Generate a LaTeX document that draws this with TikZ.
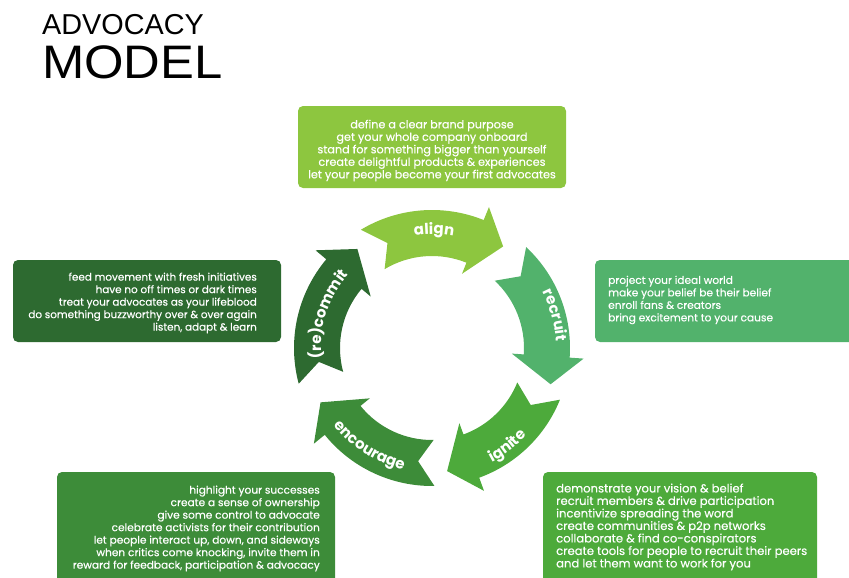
\documentclass[tikz,border=0pt]{standalone}
\usepackage{fontspec}
\setmainfont{Liberation Sans}
\newfontfamily\titlefont[FakeStretch=1.08]{Liberation Sans}
\newfontfamily\gothic{Poppins}
\newfontfamily\panelfont[FakeBold=0.4]{Poppins}
\usetikzlibrary{decorations.text}

\definecolor{AlignGreen}{HTML}{8DC63F}
\definecolor{RecruitGreen}{HTML}{52B26C}
\definecolor{IgniteGreen}{HTML}{4DAA3B}
\definecolor{EncourageGreen}{HTML}{3D8C39}
\definecolor{CommitGreen}{HTML}{2D6A30}

\newcommand\labelfont{\gothic\bfseries\fontsize{15}{15}\selectfont}
\newcommand\innerR{92}
\newcommand\outerR{138}

% one curved arrow of the cycle: colour, tail angle, tip angle
\newcommand\cyclearrow[3]{%
  \fill[#1] ({#2}:\outerR) arc[start angle=#2, end angle=#3+13, radius=\outerR]
    -- ({#3+13}:{\outerR+14}) -- ({#3}:124) -- ({#3+13}:{\innerR-12})
    -- ({#3+13}:\innerR) arc[start angle=#3+13, end angle=#2, radius=\innerR]
    -- ({#2-8}:114) -- cycle;}

\tikzset{
  panel/.style = {rectangle, rounded corners=5pt, inner sep=0pt, draw=none},
  paneltext/.style = {inner sep=0pt, text=white, font=\panelfont\fontsize{#1}{12.5}\selectfont},
  cyclelabel/.style = {decorate, decoration={text along path, text align=center, text color=white}},
  titletext/.style = {anchor=base west, inner sep=0pt}
}

\begin{document}
\begin{tikzpicture}[x=1pt, y=1pt]
  \useasboundingbox (0,0) rectangle (849,-578);

  % title
  \node[titletext, font=\fontsize{28.8}{28.8}\selectfont] (title) at (42,-35) {ADVOCACY};
  \node[titletext, font=\titlefont\fontsize{47}{47}\selectfont] (subtitle) at (42,-78) {MODEL};

  % the five steps around the circle
  \begin{scope}[shift={(432,-348)}]
    \cyclearrow{AlignGreen}{121}{55}
    \cyclearrow{RecruitGreen}{47}{-17}
    \cyclearrow{IgniteGreen}{-22}{-83}
    \cyclearrow{EncourageGreen}{-89}{-154}
    \cyclearrow{CommitGreen}{195}{127}

    \path[cyclelabel, decoration={text={|\labelfont|align}}]
      (120:114) arc[start angle=120, end angle=58, radius=114];
    \path[cyclelabel, decoration={text={|\labelfont|recruit}}]
      (48:124) arc[start angle=48, end angle=-18, radius=124];
    \path[cyclelabel, decoration={text={|\labelfont|ignite}}]
      (-85:129) arc[start angle=-85, end angle=-20, radius=129];
    \path[cyclelabel, decoration={text={|\labelfont|encourage}}]
      (-155:125) arc[start angle=-155, end angle=-90, radius=125];
    \path[cyclelabel, decoration={text={|\labelfont|(re)commit}}]
      (195:111) arc[start angle=195, end angle=129, radius=111];
  \end{scope}

  % panels
  \node[panel, fill=AlignGreen, minimum width=268, minimum height=82] (alignbox) at (432,-147) {};
  \node[paneltext=11.2, align=center] (aligntext) at (432,-150.5) {define a clear brand purpose\\
    get your whole company onboard\\ stand for something bigger than yourself\\
    create delightful products \& experiences\\ let your people become your first advocates};

  \node[panel, fill=CommitGreen, minimum width=268, minimum height=82] (commitbox) at (147,-301) {};
  \node[paneltext=10.4, align=right, anchor=east] (committext) at (257,-303) {feed movement with fresh initiatives\\
    have no off times or dark times\\ treat your advocates as your lifeblood\\
    do something buzzworthy over \& over again\\ listen, adapt \& learn};

  \node[panel, fill=RecruitGreen, minimum width=270, minimum height=82] (recruitbox) at (730,-301) {};
  \node[paneltext=10.6, align=left, anchor=west] (recruittext) at (608,-300) {project your ideal world\\
    make your belief be their belief\\ enroll fans \& creators\\ bring excitement to your cause};

  \node[panel, fill=EncourageGreen, minimum width=278, minimum height=112] (encouragebox) at (196,-528) {};
  \node[paneltext=10.6, align=right, anchor=east] (encouragetext) at (320,-528.5) {highlight your successes\\
    create a sense of ownership\\ give some control to advocate\\
    celebrate activists for their contribution\\ let people interact up, down, and sideways\\
    when critics come knocking, invite them in\\ reward for feedback, participation \& advocacy};

  \node[panel, fill=IgniteGreen, minimum width=274, minimum height=112] (ignitebox) at (680,-528) {};
  \node[paneltext=11.6, align=left, anchor=west] (ignitetext) at (556,-527) {demonstrate your vision \& belief\\
    recruit members \& drive participation\\ incentivize spreading the word\\
    create communities \& p2p networks\\ collaborate \& find co-conspirators\\
    create tools for people to recruit their peers\\ and let them want to work for you};
\end{tikzpicture}
\end{document}
